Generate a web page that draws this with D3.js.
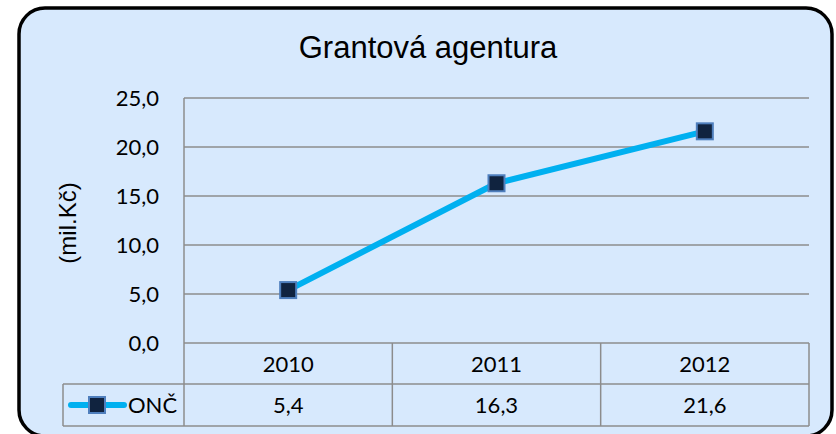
<!DOCTYPE html>
<html>
<head>
<meta charset="utf-8">
<script src="https://cdn.jsdelivr.net/npm/d3@7"></script>
<style>
  body { margin: 0; background: #fff; }
  svg { display: block; }
</style>
</head>
<body>
<div id="chart"></div>
<script>
const width = 836;
const height = 434;

// data
const years = ["2010", "2011", "2012"];
const values = [5.4, 16.3, 21.6];
const yTicks = [0, 5, 10, 15, 20, 25];
const seriesName = "ONČ";
const title = "Grantová agentura";
const yLabel = "(mil.Kč)";

const fmt = v => d3.format(".1f")(v).replace(".", ",");
const labelFont = "Lato, Open Sans, sans-serif";

const svg = d3.select("#chart")
    .append("svg")
    .attr("width", width)
    .attr("height", height);

// outer frame (bottom edge runs just past the picture)
svg.append("rect")
    .attr("x", 19)
    .attr("y", 8)
    .attr("width", 813)
    .attr("height", 428)
    .attr("rx", 26)
    .attr("fill", "#d7e9fd")
    .attr("stroke", "#000")
    .attr("stroke-width", 3.5);

const plot = { left: 184, right: 809, top: 98, bottom: 343 };

const x = d3.scaleBand()
    .domain(years)
    .range([plot.left, plot.right]);

const y = d3.scaleLinear()
    .domain([0, 25])
    .range([plot.bottom, plot.top]);

// title
svg.append("text")
    .attr("x", 428)
    .attr("y", 58)
    .attr("text-anchor", "middle")
    .attr("font-family", "Liberation Sans, Arial, sans-serif")
    .attr("font-size", 31)
    .attr("fill", "#000")
    .text(title);

// y label
svg.append("text")
    .attr("transform", "translate(76,223) rotate(-90)")
    .attr("text-anchor", "middle")
    .attr("font-family", "Liberation Sans, Arial, sans-serif")
    .attr("font-size", 24)
    .text(yLabel);

// gridlines
svg.append("g")
    .selectAll("line")
    .data(yTicks)
    .enter()
    .append("line")
    .attr("x1", plot.left)
    .attr("x2", plot.right)
    .attr("y1", d => y(d))
    .attr("y2", d => y(d))
    .attr("stroke", "#8c8c8c")
    .attr("stroke-width", 1.5);

// left edge of plot
svg.append("line")
    .attr("x1", plot.left).attr("x2", plot.left)
    .attr("y1", plot.top).attr("y2", 426)
    .attr("stroke", "#8c8c8c")
    .attr("stroke-width", 1.5);

// y tick labels
svg.append("g")
    .selectAll("text")
    .data(yTicks)
    .enter()
    .append("text")
    .attr("x", 159)
    .attr("y", d => y(d) + 8)
    .attr("text-anchor", "end")
    .attr("font-family", labelFont)
    .attr("font-size", 22)
    .text(d => fmt(d));

// data table
const rowTop = 343, rowMid = 384, rowBot = 426;
const grid = svg.append("g")
    .attr("stroke", "#8c8c8c")
    .attr("stroke-width", 1.5)
    .attr("fill", "none");

grid.append("line").attr("x1", 63).attr("x2", plot.right).attr("y1", rowMid).attr("y2", rowMid);
grid.append("line").attr("x1", 63).attr("x2", plot.right).attr("y1", rowBot).attr("y2", rowBot);
grid.append("line").attr("x1", 63).attr("x2", 63).attr("y1", rowMid).attr("y2", rowBot);
grid.selectAll("line.col")
    .data(years)
    .enter()
    .append("line")
    .attr("class", "col")
    .attr("x1", d => x(d) + x.bandwidth())
    .attr("x2", d => x(d) + x.bandwidth())
    .attr("y1", rowTop)
    .attr("y2", rowBot);

svg.append("g")
    .selectAll("text")
    .data(years)
    .enter()
    .append("text")
    .attr("x", d => x(d) + x.bandwidth() / 2)
    .attr("y", 372)
    .attr("text-anchor", "middle")
    .attr("font-family", labelFont)
    .attr("font-size", 22)
    .text(d => d);

svg.append("g")
    .selectAll("text")
    .data(values)
    .enter()
    .append("text")
    .attr("x", (d, i) => x(years[i]) + x.bandwidth() / 2)
    .attr("y", 413)
    .attr("text-anchor", "middle")
    .attr("font-family", labelFont)
    .attr("font-size", 22)
    .text(d => fmt(d));

// legend key
svg.append("line")
    .attr("x1", 71).attr("x2", 124)
    .attr("y1", 405).attr("y2", 405)
    .attr("stroke", "#00b0f0")
    .attr("stroke-width", 6)
    .attr("stroke-linecap", "round");
svg.append("rect")
    .attr("x", 89).attr("y", 397)
    .attr("width", 16).attr("height", 16)
    .attr("fill", "#10233f")
    .attr("stroke", "#4f7fbd")
    .attr("stroke-width", 2);
svg.append("text")
    .attr("x", 128)
    .attr("y", 413)
    .attr("font-family", labelFont)
    .attr("font-size", 22)
    .text(seriesName);

// line
const line = d3.line()
    .x((d, i) => x(years[i]) + x.bandwidth() / 2)
    .y(d => y(d));

svg.append("path")
    .datum(values)
    .attr("d", line)
    .attr("fill", "none")
    .attr("stroke", "#00b0f0")
    .attr("stroke-width", 6)
    .attr("stroke-linejoin", "round");

svg.append("g")
    .selectAll("rect")
    .data(values)
    .enter()
    .append("rect")
    .attr("x", (d, i) => x(years[i]) + x.bandwidth() / 2 - 8)
    .attr("y", d => y(d) - 8)
    .attr("width", 16)
    .attr("height", 16)
    .attr("fill", "#10233f")
    .attr("stroke", "#4f7fbd")
    .attr("stroke-width", 2);
</script>
</body>
</html>
